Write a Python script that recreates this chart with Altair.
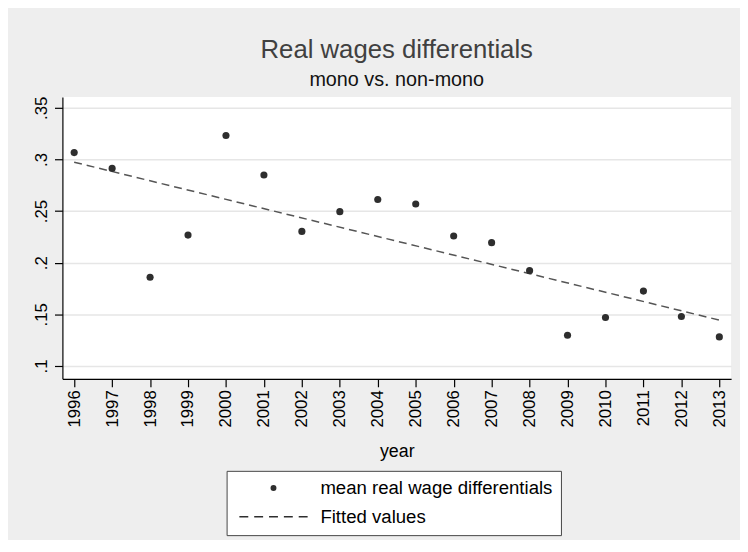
import altair as alt
import pandas as pd

# ---- data ----
years = list(range(1996, 2014))
wage_diff = [0.3066, 0.2913, 0.1859, 0.2267, 0.3232, 0.2849, 0.2303, 0.2494,
             0.2612, 0.2568, 0.2258, 0.2194, 0.1923, 0.1297, 0.1469, 0.1725,
             0.1479, 0.1281]
fit_years = [1996, 2013]
fit_values = [0.2973, 0.1444]
series_names = ["mean real wage differentials", "Fitted values"]
y_ticks = [0.1, 0.15, 0.2, 0.25, 0.3, 0.35]

pts = pd.DataFrame({"year": years, "value": wage_diff, "series": series_names[0]})
fit = pd.DataFrame({"year": fit_years, "value": fit_values, "series": series_names[1]})

FONT = "Liberation Sans"
DOT_SIZE = 36

x_enc = alt.X("year:Q",
              scale=alt.Scale(domain=[1995.69, 2013.31], nice=False, zero=False),
              axis=alt.Axis(values=years, format="d", title="year", labelAngle=270,
                            grid=False, labelPadding=3, titlePadding=16))
y_enc = alt.Y("value:Q",
              scale=alt.Scale(domain=[0.0875, 0.3605], nice=False, zero=False),
              axis=alt.Axis(values=y_ticks, title=None, labelAngle=270, labelPadding=4,
                            labelExpr="replace(format(datum.value, '.2~f'), /^0/, '')",
                            grid=True))

# legend symbols: a dot, and a dashed horizontal bar (custom path) for the fit
dashed_symbol = ("M-11.5,-0.25h3v0.5h-3z M-6.5,-0.25h3v0.5h-3z M-1.5,-0.25h3v0.5h-3z "
                 "M3.5,-0.25h3v0.5h-3z M8.5,-0.25h3v0.5h-3z")
shape_scale = alt.Scale(domain=series_names, range=["circle", dashed_symbol])

legend = alt.Legend(title=None, orient="none", legendX=166, legendY=378,
                    direction="vertical", labelFont=FONT, labelFontSize=18.8,
                    labelColor="#000000", labelOffset=38, symbolOffset=30,
                    strokeColor="#444444", fillColor="#ffffff", padding=8,
                    rowPadding=9, symbolFillColor="#3a3a3a", symbolStrokeWidth=0,
                    symbolSize=DOT_SIZE, labelLimit=400)

points = alt.Chart(pts).mark_point(filled=True, fill="#2e2e2e", opacity=1,
                                   size=52).encode(
    x=x_enc, y=y_enc,
    shape=alt.Shape("series:N", scale=shape_scale, legend=legend),
)

line = alt.Chart(fit).mark_line(color="#555555", strokeWidth=1.5,
                                strokeDash=[8, 5]).encode(
    x=x_enc, y=y_enc,
)

chart = alt.layer(line, points).properties(
    width=676, height=285,
    background="#eeeeee",
    padding={"left": 55, "top": 87, "right": 9, "bottom": 160},
    autosize=alt.AutoSizeParams(type="none"),
    title=alt.TitleParams(text="Real wages differentials", subtitle="mono vs. non-mono",
                          anchor="middle", frame="group", font=FONT, fontSize=26,
                          fontWeight="normal", color="#404040", subtitleFont=FONT,
                          subtitleFontSize=20, subtitleColor="#111111",
                          subtitlePadding=8, offset=6),
).configure_view(stroke=None, fill="#ffffff").configure_axis(
    labelFont=FONT, labelFontSize=17, labelColor="#000000",
    titleFont=FONT, titleFontSize=18, titleFontWeight="normal", titleColor="#000000",
    domainColor="#000000", domainWidth=1.2, tickColor="#000000", tickSize=8,
    tickWidth=1.2, gridColor="#e6e6e6", gridWidth=1.5,
)

chart.save("out.html", embed_options={"renderer": "svg", "actions": False})
